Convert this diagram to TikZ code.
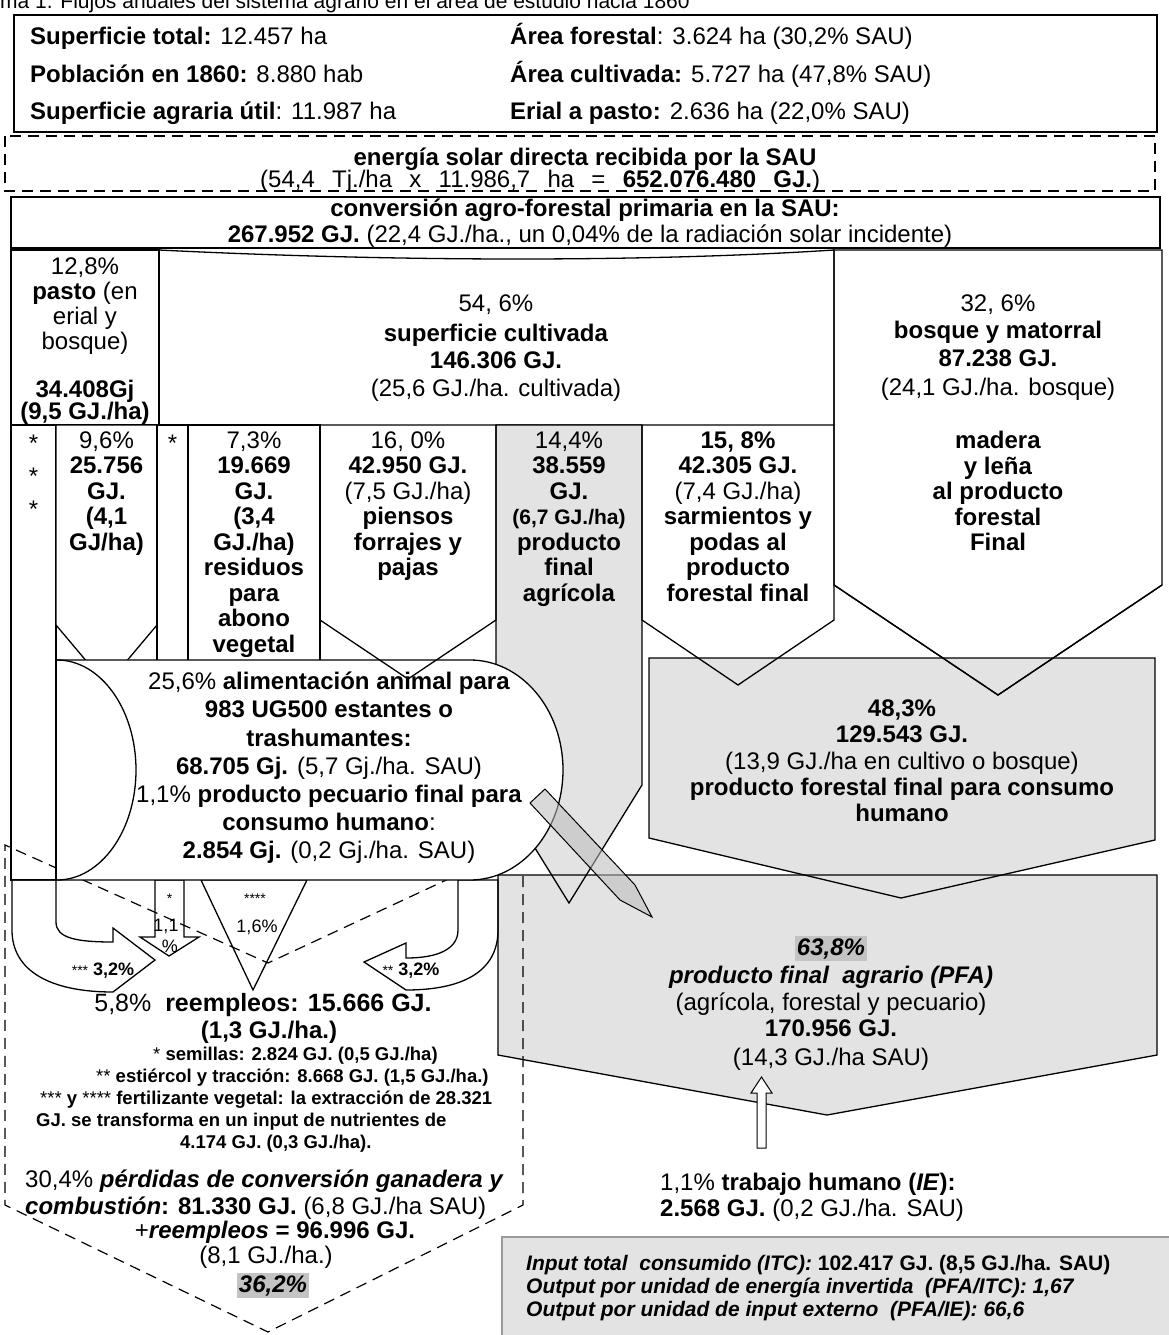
\documentclass[tikz,border=0pt]{standalone}
\usepackage{fontspec}
\setmainfont{Liberation Sans}
\definecolor{shadegray}{HTML}{E3E3E3}
\definecolor{hlgray}{HTML}{C3C3C3}
\definecolor{pengray}{HTML}{BBBBBB}
\definecolor{inborder}{HTML}{9A9A9A}
\newcommand{\FMain}{\fontsize{24}{27}\selectfont}
\newcommand{\FBig}{\fontsize{25}{28}\selectfont}
\newcommand{\FSmall}{\fontsize{18.5}{21}\selectfont}
\newcommand{\FMid}{\fontsize{18}{20}\selectfont}
\newcommand{\FTiny}{\fontsize{14}{16}\selectfont}
\newcommand{\FInp}{\fontsize{21}{24}\selectfont}
\newcommand{\FTitle}{\fontsize{21}{24}\selectfont}
\begin{document}
\begin{tikzpicture}[x=1pt,y=-1pt,
  ln/.style={line width=1.3pt},
  thinln/.style={line width=1pt},
  dashln/.style={line width=1.2pt, dash pattern=on 11pt off 7pt},
  txt/.style={inner sep=0pt, anchor=base, font=\FMain},
  txtw/.style={inner sep=0pt, anchor=base west, font=\FMain},
  hl/.style={fill=hlgray, inner sep=2pt}]
\useasboundingbox (0,0) rectangle (1168,1335);
\fill[white] (0,0) rectangle (1168,1335);

% ---------- shaded boxes first
\path[fill=shadegray] (498,875) -- (1157,875) -- (1157,1055) -- (827,1115) -- (498,1055) -- cycle;
\draw[ln, fill=shadegray] (649,658) -- (1155,658) -- (1155,840) -- (901,898) -- (649,838) -- cycle;
\draw[line width=1.2pt, draw=inborder, fill=shadegray] (502,1237) rectangle (1175,1345);

% ---------- top boxes
\draw[ln] (14,15) rectangle (1157,132);
\draw[dashln] (5,136) rectangle (1155,191);
\draw[ln] (11,197) rectangle (1160,248);
\draw[ln] (11,250) rectangle (159,425);
\draw[ln] (159,425) -- (159,250) .. controls (400,262) and (650,262) .. (834,250) -- (834,425) -- cycle;
\draw[ln] (834,250) -- (1162,250) -- (1162,585) -- (998,695) -- (834,585) -- cycle;

% ---------- columns
\draw[ln, fill=white] (11,425) rectangle (56,880);
\draw[ln, fill=white] (56,425) -- (157,425) -- (157,625) -- (106.5,685) -- (56,625) -- cycle;
\draw[ln, fill=white] (157,425) rectangle (188,700);
\draw[ln, fill=white] (188,425) rectangle (320,700);

% ---------- arrows under the feed shape
\draw[ln, fill=white] (12,880) -- (12,930) .. controls (12,972) and (52,992) .. (113,992) -- (155,960) -- (113,928) -- (113,942) .. controls (76,942) and (56,938) .. (56,922) -- (56,880) -- cycle;
\draw[ln, fill=white] (498,880) -- (498,930) .. controls (498,972) and (462,990) .. (406,990) -- (364,962) -- (406,943) -- (406,958) .. controls (440,958) and (458,948) .. (458,930) -- (458,880) -- cycle;
\draw[ln, fill=white] (155,880) -- (184,880) -- (184,937) -- (199,937) -- (169,956) -- (140,937) -- (155,937) -- cycle;
\draw[ln, fill=white] (201,880) -- (307,880) -- (253,990) -- cycle;

% ---------- dashed losses chevron
\draw[dashln] (523,876) -- (523,1205) -- (268,1332) -- (5,1205) -- (5,845) -- (268,963) -- (500,855);

% ---------- agricultural final product column
\draw[ln, fill=shadegray] (496,425) -- (642,425) -- (642,785) -- (569,903) -- (496,785) -- cycle;
\draw[ln] (498,875) -- (1157,875) -- (1157,1055) -- (827,1115) -- (498,1055) -- cycle;

% ---------- animal feed shape
\fill[white] (57,660) -- (470,660) arc[start angle=-90, end angle=90, x radius=93, y radius=110] -- (57,880) -- cycle;
\draw[ln] (57,660) -- (470,660) arc[start angle=-90, end angle=90, x radius=93, y radius=110] -- (11,880);
\draw[ln] (57,880) arc[start angle=90, end angle=-90, x radius=79, y radius=110];

% ---------- arrows drawn over
\draw[ln] (320,425) -- (320,620) -- (408,679) -- (496,620) -- (496,425);
\draw[ln] (642,425) -- (642,620) -- (738,685) -- (834,620) -- (834,425);
\draw[ln] (834,585) -- (998,695) -- (1162,585);
\draw[thinln, fill=pengray, fill opacity=0.55] (545,789) -- (635,885) -- (652,917) -- (620,900) -- (530,803) -- cycle;
\draw[thinln, fill=white] (757,1148) -- (757,1093) -- (751,1093) -- (761.5,1077) -- (772,1093) -- (766,1093) -- (766,1148) -- cycle;

% ---------- texts
\node[txtw, font=\FTitle] (title) at (0,9) {ma 1. Flujos anuales del sistema agrario en el área de estudio hacia 1860};

\node[txtw] (i1) at (30,45) {\textbf{Superficie total:} 12.457 ha};
\node[txtw] (i2) at (30,83) {\textbf{Población en 1860:} 8.880 hab};
\node[txtw] (i3) at (30,120) {\textbf{Superficie agraria útil}: 11.987 ha};
\node[txtw] (i4) at (510,45) {\textbf{Área forestal}: 3.624 ha (30,2\% SAU)};
\node[txtw] (i5) at (510,83) {\textbf{Área cultivada:} 5.727 ha (47,8\% SAU)};
\node[txtw] (i6) at (510,120) {\textbf{Erial a pasto:} 2.636 ha (22,0\% SAU)};

\node[txt] (s1) at (585,165) {\textbf{energía solar directa recibida por la SAU}};
\node[txtw] (s2) at (260,187) {\makebox[560pt][s]{(54,4 Tj./ha x 11.986,7 ha = \textbf{652.076.480 GJ.})}};

\node[txt] (c1) at (585,216) {\textbf{conversión agro-forestal primaria en la SAU:}};
\node[txt] (c2) at (590,242) {\textbf{267.952 GJ.} (22,4 GJ./ha., un 0,04\% de la radiación solar incidente)};

\node[txt] (p1) at (85,274) {12,8\%};
\node[txt] (p2) at (85,299) {\textbf{pasto} (en};
\node[txt] (p3) at (85,324) {erial y};
\node[txt] (p4) at (85,349) {bosque)};
\node[txt] (p5) at (85,397) {\textbf{34.408Gj}};
\node[txt] (p6) at (85,419) {\textbf{(9,5 GJ./ha)}};

\node[txt] (u1) at (496,311) {54, 6\%};
\node[txt] (u2) at (496,341) {\textbf{superficie cultivada}};
\node[txt] (u3) at (496,368) {\textbf{146.306 GJ.}};
\node[txt] (u4) at (496,396) {(25,6 GJ./ha. cultivada)};

\node[txt] (b1) at (998,311) {32, 6\%};
\node[txt] (b2) at (998,338) {\textbf{bosque y matorral}};
\node[txt] (b3) at (998,366) {\textbf{87.238 GJ.}};
\node[txt] (b4) at (998,395) {(24,1 GJ./ha. bosque)};
\node[txt] (b5) at (998,448) {\textbf{madera}};
\node[txt] (b6) at (998,474) {\textbf{y leña}};
\node[txt] (b7) at (998,499) {\textbf{al producto}};
\node[txt] (b8) at (998,525) {\textbf{forestal}};
\node[txt] (b9) at (998,550) {\textbf{Final}};

\node[txt] (a1) at (33.5,451) {*};
\node[txt] (a2) at (33.5,484) {*};
\node[txt] (a3) at (33.5,517) {*};
\node[txt] (a4) at (172.5,451) {*};

\node[txt] (n1) at (106.5,448) {9,6\%};
\node[txt] (n2) at (106.5,473.5) {\textbf{25.756}};
\node[txt] (n3) at (106.5,499) {\textbf{GJ.}};
\node[txt] (n4) at (106.5,524.5) {\textbf{(4,1}};
\node[txt] (n5) at (106.5,550) {\textbf{GJ/ha)}};

\node[txt] (r1) at (254,448) {7,3\%};
\node[txt] (r2) at (254,473.5) {\textbf{19.669}};
\node[txt] (r3) at (254,499) {\textbf{GJ.}};
\node[txt] (r4) at (254,524.5) {\textbf{(3,4}};
\node[txt] (r5) at (254,550) {\textbf{GJ./ha)}};
\node[txt] (r6) at (254,575.5) {\textbf{residuos}};
\node[txt] (r7) at (254,601) {\textbf{para}};
\node[txt] (r8) at (254,626.5) {\textbf{abono}};
\node[txt] (r9) at (254,652) {\textbf{vegetal}};

\node[txt] (f1) at (408,448) {16, 0\%};
\node[txt] (f2) at (408,473.5) {\textbf{42.950 GJ.}};
\node[txt] (f3) at (408,499) {(7,5 GJ./ha)};
\node[txt] (f4) at (408,524.5) {\textbf{piensos}};
\node[txt] (f5) at (408,550) {\textbf{forrajes y}};
\node[txt] (f6) at (408,575.5) {\textbf{pajas}};

\node[txt] (g1) at (569,448) {14,4\%};
\node[txt] (g2) at (569,473.5) {\textbf{38.559}};
\node[txt] (g3) at (569,499) {\textbf{GJ.}};
\node[txt, font=\FInp] (g4) at (569,524.5) {\textbf{(6,7 GJ./ha)}};
\node[txt] (g5) at (569,550) {\textbf{producto}};
\node[txt] (g6) at (569,575.5) {\textbf{final}};
\node[txt] (g7) at (569,601) {\textbf{agrícola}};

\node[txt] (m1) at (738,448) {\textbf{15, 8\%}};
\node[txt] (m2) at (738,473.5) {\textbf{42.305 GJ.}};
\node[txt] (m3) at (738,499) {(7,4 GJ./ha)};
\node[txt] (m4) at (738,524.5) {\textbf{sarmientos y}};
\node[txt] (m5) at (738,550) {\textbf{podas al}};
\node[txt] (m6) at (738,575.5) {\textbf{producto}};
\node[txt] (m7) at (738,601) {\textbf{forestal final}};

\node[txt] (e1) at (329,689) {25,6\% \textbf{alimentación animal para}};
\node[txt] (e2) at (329,717) {\textbf{983 UG500 estantes o}};
\node[txt] (e3) at (329,746) {\textbf{trashumantes:}};
\node[txt] (e4) at (329,774) {\textbf{68.705 Gj.} (5,7 Gj./ha. SAU)};
\node[txt] (e5) at (329,802) {1,1\% \textbf{producto pecuario final para}};
\node[txt] (e6) at (329,830) {\textbf{consumo humano}:};
\node[txt] (e7) at (329,858) {\textbf{2.854 Gj.} (0,2 Gj./ha. SAU)};

\node[txt] (h1) at (902,716) {\textbf{48,3\%}};
\node[txt] (h2) at (902,742) {\textbf{129.543 GJ.}};
\node[txt] (h3) at (902,769) {(13,9 GJ./ha en cultivo o bosque)};
\node[txt] (h4) at (902,795) {\textbf{producto forestal final para consumo}};
\node[txt] (h5) at (902,821) {\textbf{humano}};

\node[txt, font=\FTiny] (k1) at (169.5,903) {*};
\node[txt, font=\FMid] (k2) at (166,931) {1,1};
\node[txt, font=\FMid] (k3) at (170,952) {\%};
\node[txt, font=\FTiny] (k4) at (255,903) {****};
\node[txt, font=\FMid] (k5) at (257,932) {1,6\%};
\node[txt, font=\FMid] (k6) at (103,975) {{\FTiny ***} \textbf{3,2\%}};
\node[txt, font=\FMid] (k7) at (411,975) {{\FTiny **} \textbf{3,2\%}};

\node[txt, font=\FBig] (q1) at (263,1011) {5,8\%\ \ \textbf{reempleos: 15.666 GJ.}};
\node[txt] (q2) at (269,1038) {\textbf{(1,3 GJ./ha.)}};
\node[txtw, font=\FSmall] (q3) at (153,1060) {* \textbf{semillas: 2.824 GJ. (0,5 GJ./ha)}};
\node[txtw, font=\FSmall] (q4) at (96,1082) {** \textbf{estiércol y tracción: 8.668 GJ. (1,5 GJ./ha.)}};
\node[txtw, font=\FSmall] (q5) at (40,1104) {*** \textbf{y} **** \textbf{fertilizante vegetal: la extracción de 28.321}};
\node[txtw, font=\FSmall] (q6) at (36,1126) {\textbf{GJ. se transforma en un input de nutrientes de}};
\node[txtw, font=\FSmall] (q7) at (180,1148) {\textbf{4.174 GJ. (0,3 GJ./ha).}};

\node[txtw] (l1) at (25,1187) {30,4\% \textbf{\textit{pérdidas de conversión ganadera y}}};
\node[txtw] (l2) at (25,1214) {\textbf{\textit{combustión}: 81.330 GJ.} (6,8 GJ./ha SAU)};
\node[txt] (l3) at (275,1238) {+\textbf{\textit{reempleos} = 96.996 GJ.}};
\node[txt] (l4) at (266,1263) {(8,1 GJ./ha.)};
\node[txt, hl] (l5) at (273,1292) {\textbf{\textit{36,2\%}}};

\node[txt, hl] (o1) at (831,955) {\textbf{\textit{63,8\%}}};
\node[txt] (o2) at (831,983) {\textbf{\textit{producto final\ \ agrario (PFA)}}};
\node[txt] (o3) at (831,1010) {(agrícola, forestal y pecuario)};
\node[txt] (o4) at (831,1036) {\textbf{170.956 GJ.}};
\node[txt] (o5) at (831,1065) {(14,3 GJ./ha SAU)};

\node[txtw] (w1) at (660,1190) {1,1\% \textbf{trabajo humano (\textit{IE}):}};
\node[txtw] (w2) at (660,1216) {\textbf{2.568 GJ.} (0,2 GJ./ha. SAU)};

\node[txtw, font=\FInp] (x1) at (526,1270) {\textbf{\textit{Input total\ \ consumido (ITC):} 102.417 GJ. (8,5 GJ./ha. SAU)}};
\node[txtw, font=\FInp] (x2) at (526,1293) {\textbf{\textit{Output por unidad de energía invertida\ \ (PFA/ITC): 1,67}}};
\node[txtw, font=\FInp] (x3) at (526,1316) {\textbf{\textit{Output por unidad de input externo\ \ (PFA/IE): 66,6}}};
\end{tikzpicture}
\end{document}
